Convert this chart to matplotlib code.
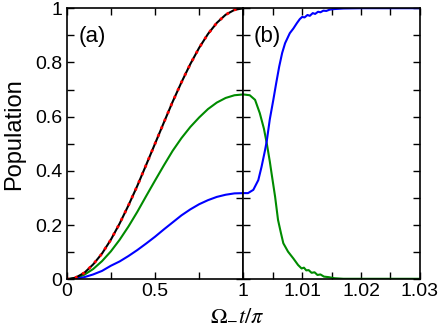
import matplotlib

matplotlib.use("Agg")
import matplotlib.pyplot as plt
from matplotlib.ticker import FixedLocator, MultipleLocator

plt.rcParams["font.family"] = ["Liberation Sans", "DejaVu Sans"]
plt.rcParams["mathtext.fontset"] = "stix"

# panel (a): 0 <= Omega_- t / pi <= 1
x_a = [0.0, 0.05, 0.1, 0.15, 0.2, 0.25, 0.3, 0.35, 0.4, 0.45, 0.5,
       0.55, 0.6, 0.65, 0.7, 0.75, 0.8, 0.85, 0.9, 0.95, 1.0]
black_a = [0.0, 0.006, 0.024, 0.055, 0.095, 0.146, 0.206, 0.273, 0.345, 0.422, 0.5,
           0.578, 0.655, 0.727, 0.794, 0.854, 0.905, 0.946, 0.976, 0.994, 1.0]
green_a = [0.0, 0.004, 0.017, 0.038, 0.067, 0.103, 0.146, 0.195, 0.249, 0.307, 0.364,
           0.420, 0.474, 0.521, 0.562, 0.597, 0.628, 0.652, 0.669, 0.679, 0.682]
blue_a = [0.0, 0.002, 0.008, 0.018, 0.031, 0.050, 0.066, 0.086, 0.108, 0.132, 0.157,
          0.184, 0.210, 0.236, 0.258, 0.277, 0.292, 0.304, 0.312, 0.317, 0.318]

# panel (b): zoom right after Omega_- t / pi = 1
x_blue_b = [1.0, 1.0008, 1.0017, 1.00255, 1.0031, 1.0037, 1.0040, 1.0045, 1.0051, 1.0056,
            1.0061, 1.0066, 1.0071, 1.0079, 1.0085, 1.0091, 1.0096, 1.0100, 1.0104, 1.0109,
            1.0113, 1.0118, 1.0122, 1.0127, 1.0131, 1.0136, 1.0141, 1.0147, 1.0155, 1.017,
            1.02, 1.03]
blue_b = [0.318, 0.318, 0.330, 0.366, 0.415, 0.477, 0.512, 0.590, 0.662, 0.725,
          0.785, 0.835, 0.871, 0.908, 0.925, 0.945, 0.960, 0.968, 0.966, 0.975,
          0.972, 0.982, 0.979, 0.987, 0.985, 0.991, 0.990, 0.995, 0.997, 0.999,
          1.0, 1.0]
x_green_b = [1.0, 1.0011, 1.0020, 1.0028, 1.0035, 1.0040, 1.0045, 1.0048, 1.0054, 1.0059,
             1.0064, 1.0068, 1.0076, 1.0085, 1.0093, 1.0099, 1.0103, 1.0107, 1.0111, 1.0116,
             1.0121, 1.0126, 1.0131, 1.0137, 1.0145, 1.0155, 1.017, 1.02, 1.03]
green_b = [0.682, 0.679, 0.662, 0.613, 0.556, 0.500, 0.435, 0.391, 0.305, 0.219,
           0.170, 0.133, 0.102, 0.077, 0.053, 0.040, 0.043, 0.033, 0.034, 0.024,
           0.026, 0.016, 0.018, 0.010, 0.008, 0.004, 0.002, 0.002, 0.002]

y_ticks = [0, 0.2, 0.4, 0.6, 0.8, 1.0]
y_tick_labels = ["0", "0.2", "0.4", "0.6", "0.8", "1"]
xa_ticks = [0, 0.5]
xa_tick_labels = ["0", "0.5"]
xb_ticks = [1.0, 1.01, 1.02, 1.03]
xb_tick_labels = ["1", "1.01", "1.02", "1.03"]

BLUE = "#0000ff"
GREEN = "#008b00"
RED = "#ff0000"

fig = plt.figure(figsize=(4.43, 3.29), dpi=100)
ax_a = fig.add_axes([0.1505, 0.151, 0.3987, 0.824])
ax_b = fig.add_axes([0.5492, 0.151, 0.3987, 0.824])

ax_a.plot(x_a, green_a, color=GREEN, lw=1.5)
ax_a.plot(x_a, blue_a, color=BLUE, lw=1.5)
ax_a.plot(x_a, black_a, color="black", lw=1.5)
ax_a.plot(x_a, black_a, color=RED, lw=2.0, linestyle=(0, (1.0, 2.0)))

ax_b.plot(x_green_b, green_b, color=GREEN, lw=1.5)
ax_b.plot(x_blue_b, blue_b, color=BLUE, lw=1.5)

ax_a.set_xlim(0, 1)
ax_b.set_xlim(1.0, 1.03)
for ax in (ax_a, ax_b):
    ax.set_ylim(0, 1)
    ax.yaxis.set_major_locator(FixedLocator(y_ticks))
    ax.yaxis.set_minor_locator(MultipleLocator(0.1))
    ax.tick_params(which="both", direction="in", length=5, width=1,
                   top=True, right=True, labelsize=14, pad=3)
    for spine in ax.spines.values():
        spine.set_linewidth(1.2)

ax_a.set_xticks(xa_ticks)
ax_a.set_xticklabels(xa_tick_labels)
ax_a.xaxis.set_minor_locator(MultipleLocator(0.25))
ax_a.set_yticklabels(y_tick_labels)

ax_b.set_xticks(xb_ticks)
ax_b.set_xticklabels(xb_tick_labels)
ax_b.xaxis.set_minor_locator(MultipleLocator(0.005))
ax_b.set_yticklabels([])

ax_a.set_ylabel("Population", fontsize=17)
ax_a.yaxis.set_label_coords(-0.236, 0.536)

ax_a.text(0.068, 0.935, "(a)", transform=ax_a.transAxes, fontsize=16, va="top", ha="left")
ax_b.text(0.06, 0.935, "(b)", transform=ax_b.transAxes, fontsize=16, va="top", ha="left")

fig.text(237 / 443, 1 - 314 / 329, r"$\Omega_{-}t/\pi$", fontsize=16, ha="center", va="center")

fig.savefig("out.png", dpi=100)
